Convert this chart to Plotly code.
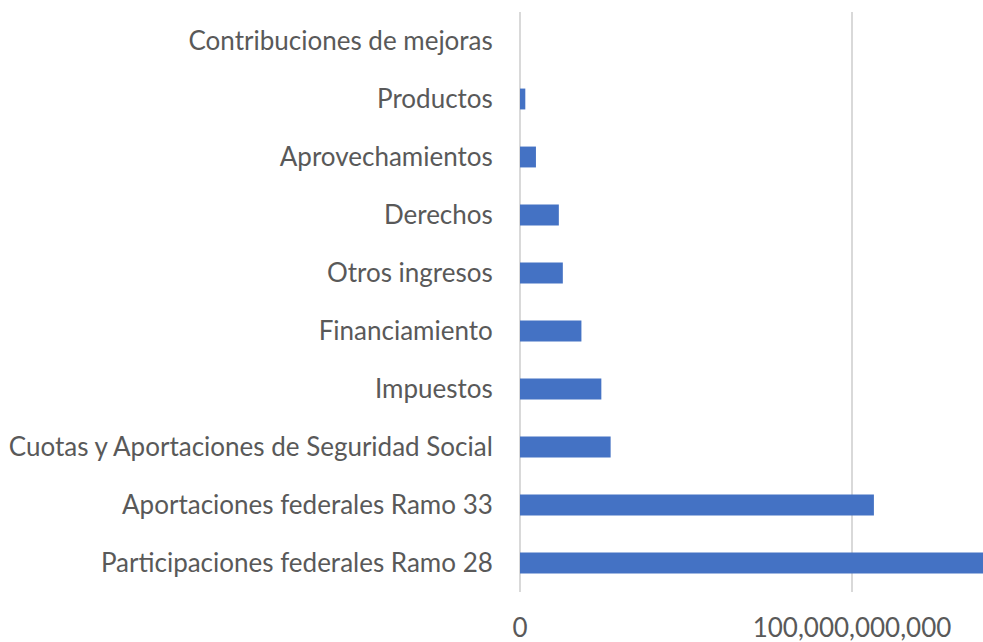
import plotly.graph_objects as go

categories = [
    "Participaciones federales Ramo 28",
    "Aportaciones federales Ramo 33",
    "Cuotas y Aportaciones de Seguridad Social",
    "Impuestos",
    "Financiamiento",
    "Otros ingresos",
    "Derechos",
    "Aprovechamientos",
    "Productos",
    "Contribuciones de mejoras",
]
values = [
    145_000_000_000,
    106_600_000_000,
    27_300_000_000,
    24_500_000_000,
    18_500_000_000,
    12_900_000_000,
    11_700_000_000,
    4_800_000_000,
    1_600_000_000,
    0,
]
x_ticks = [0, 100_000_000_000]
x_tick_labels = ["0", "100,000,000,000"]

FONT = "Lato"
FS = 26

fig = go.Figure(
    go.Bar(
        y=categories,
        x=values,
        orientation="h",
        marker=dict(color="#4472C4", line=dict(width=0)),
        width=0.36,
    )
)

fig.update_layout(
    width=983,
    height=642,
    margin=dict(l=520, r=0, t=12, b=50),
    paper_bgcolor="white",
    plot_bgcolor="white",
    showlegend=False,
    font=dict(family=FONT, size=FS, color="#595959"),
)

fig.update_xaxes(
    range=[0, 463 / 332 * 1e11],
    tickvals=x_ticks,
    ticktext=x_tick_labels,
    showgrid=True,
    gridcolor="#d9d9d9",
    gridwidth=2,
    zeroline=True,
    zerolinecolor="#d9d9d9",
    zerolinewidth=2,
    showline=False,
    ticks="outside",
    ticklen=13,
    tickcolor="rgba(0,0,0,0)",
    tickfont=dict(family=FONT, size=FS, color="#595959"),
    automargin=False,
)

fig.update_yaxes(
    categoryorder="array",
    categoryarray=categories,
    showgrid=False,
    showline=False,
    zeroline=False,
    ticks="outside",
    ticklen=21,
    tickcolor="rgba(0,0,0,0)",
    tickfont=dict(family=FONT, size=FS, color="#595959"),
    automargin=False,
)

fig.write_html(
    "out.html",
    config={"displayModeBar": False},
    post_script="document.body.style.margin='0';document.body.style.overflow='hidden';",
)
